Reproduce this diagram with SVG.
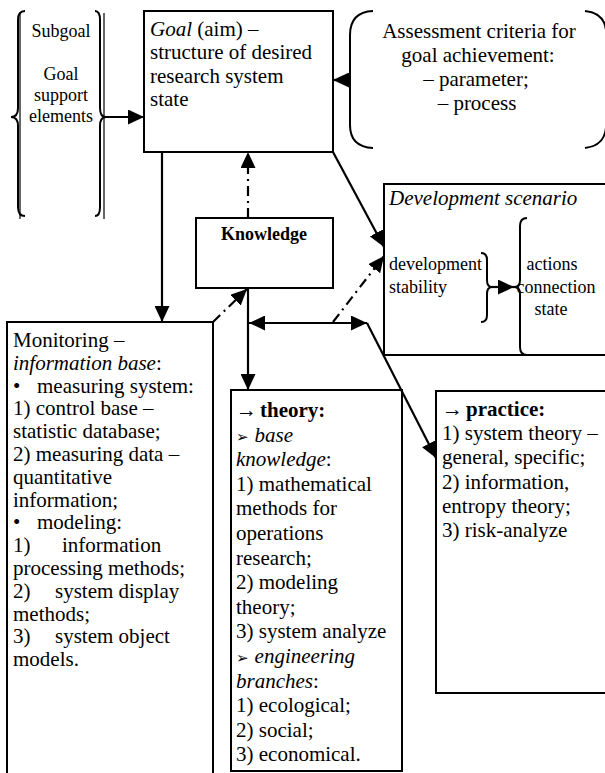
<svg xmlns="http://www.w3.org/2000/svg" width="605" height="773" viewBox="0 0 605 773">
  <style>
    text { font-family: "Liberation Serif", "Times New Roman", serif; fill: #000; }
    .t21 { font-size: 21px; }
    .t18 { font-size: 18px; }
    .box { fill: #fff; stroke: #000; stroke-width: 2; }
    .brace { fill: none; stroke: #000; stroke-width: 2; }
    .ln { fill: none; stroke: #000; stroke-width: 2.2; }
    .dd { fill: none; stroke: #000; stroke-width: 2.2; stroke-dasharray: 10 5 2 5; }
    .sym { font-family: "DejaVu Sans", sans-serif; font-size: 15px; }
    .it { font-style: italic; }
    .b { font-weight: bold; }
  </style>
  <defs>
    <marker id="arr" markerUnits="userSpaceOnUse" markerWidth="17" markerHeight="15" refX="16" refY="7.5" orient="auto-start-reverse">
      <path d="M0,0 L16,7.5 L0,15 Z" fill="#000"/>
    </marker>
  </defs>

  <rect width="605" height="773" fill="#fff"/>

  <!-- Subgoal / support elements -->
  <g id="subgoal">
    <path class="brace" d="M25,11 Q18,11 18,20 L18,108 Q18,117 11,117 Q18,117 18,126 L18,207 Q18,216 25,216"/>
    <line x1="20" y1="13" x2="20" y2="219" stroke="#000" stroke-width="1.2"/>
    <path class="brace" d="M95,11 Q100,11 100,20 L100,108 Q100,117 106,117 Q100,117 100,126 L100,207 Q100,216 95,216"/>
    <line x1="104" y1="13" x2="104" y2="219" stroke="#000" stroke-width="1.2"/>
    <text class="t18" x="61" y="37" text-anchor="middle">Subgoal</text>
    <text class="t18" x="61" y="80" text-anchor="middle">Goal</text>
    <text class="t18" x="61" y="101" text-anchor="middle">support</text>
    <text class="t18" x="61" y="122" text-anchor="middle">elements</text>
  </g>

  <!-- Goal -->
  <g id="goal">
    <rect class="box" x="144" y="11" width="189" height="141"/>
    <text class="t21" x="150" y="36"><tspan class="it">Goal</tspan> (aim) –</text>
    <text class="t21" x="150" y="59">structure of desired</text>
    <text class="t21" x="150" y="83">research system</text>
    <text class="t21" x="150" y="106">state</text>
  </g>

  <!-- Assessment criteria -->
  <g id="criteria">
    <path class="brace" d="M373,11 Q350,12 350,35 L350,125 Q350,147 373,148"/>
    <path class="brace" d="M585,11 Q604,13 606,30 M606,128 Q604,146 585,148"/>
    <text class="t21" x="479" y="38" text-anchor="middle">Assessment criteria for</text>
    <text class="t21" x="478" y="62" text-anchor="middle">goal achievement:</text>
    <text class="t21" x="476" y="86" text-anchor="middle">– parameter;</text>
    <text class="t21" x="477" y="110" text-anchor="middle">– process</text>
  </g>

  <!-- Knowledge -->
  <g id="knowledge">
    <rect class="box" x="196" y="218" width="137" height="70"/>
    <text class="t18 b" x="264" y="240" text-anchor="middle">Knowledge</text>
  </g>

  <!-- Development scenario -->
  <g id="scenario">
    <rect class="box" x="384" y="184" width="230" height="171"/>
    <text class="t21 it" x="389" y="205">Development scenario</text>
    <text class="t18" x="389" y="270">development</text>
    <text class="t18" x="389" y="293">stability</text>
    <path class="brace" d="M481,253 Q487,253 487,260 L487,280 Q487,287 492,287 Q487,287 487,294 L487,315 Q487,322 481,322"/>
    <path class="brace" d="M527,218 Q520,218 520,226 L520,280 Q520,287 514,287 Q520,287 520,294 L520,347 Q520,355 527,355"/>
    <line class="ln" x1="492" y1="287" x2="514" y2="287" marker-end="url(#arr)"/>
    <text class="t18" x="552" y="270" text-anchor="middle">actions</text>
    <text class="t18" x="556" y="293" text-anchor="middle">connection</text>
    <text class="t18" x="551" y="315" text-anchor="middle">state</text>
  </g>

  <!-- Monitoring -->
  <g id="monitoring">
    <rect class="box" x="7" y="322" width="206" height="470"/>
    <text class="t21" x="13" y="347">Monitoring –</text>
    <text class="t21" x="13" y="370"><tspan class="it">information base</tspan>:</text>
    <text class="t21" x="13" y="393">•</text>
    <text class="t21" x="37" y="393">measuring system:</text>
    <text class="t21" x="13" y="415">1) control base –</text>
    <text class="t21" x="13" y="438">statistic database;</text>
    <text class="t21" x="13" y="461">2) measuring data –</text>
    <text class="t21" x="13" y="484">quantitative</text>
    <text class="t21" x="13" y="507">information;</text>
    <text class="t21" x="13" y="529">•</text>
    <text class="t21" x="37" y="529">modeling:</text>
    <text class="t21" x="13" y="552">1)</text>
    <text class="t21" x="62" y="552">information</text>
    <text class="t21" x="13" y="575">processing methods;</text>
    <text class="t21" x="13" y="598">2)</text>
    <text class="t21" x="55" y="598">system display</text>
    <text class="t21" x="13" y="621">methods;</text>
    <text class="t21" x="13" y="643">3)</text>
    <text class="t21" x="55" y="643">system object</text>
    <text class="t21" x="13" y="666">models.</text>
  </g>

  <!-- Theory -->
  <g id="theory">
    <rect class="box" x="231" y="390" width="171" height="381"/>
    <text class="t21" x="236" y="417">→<tspan class="b" dx="3">theory:</tspan></text>
    <text x="236" y="442"><tspan class="sym">➢</tspan><tspan class="t21 it" dx="6">base</tspan></text>
    <text class="t21" x="236" y="466"><tspan class="it">knowledge</tspan>:</text>
    <text class="t21" x="236" y="491">1) mathematical</text>
    <text class="t21" x="236" y="515">methods for</text>
    <text class="t21" x="236" y="540">operations</text>
    <text class="t21" x="236" y="565">research;</text>
    <text class="t21" x="236" y="589">2) modeling</text>
    <text class="t21" x="236" y="614">theory;</text>
    <text class="t21" x="236" y="638">3) system analyze</text>
    <text x="236" y="663"><tspan class="sym">➢</tspan><tspan class="t21 it" dx="6">engineering</tspan></text>
    <text class="t21" x="236" y="688"><tspan class="it">branches</tspan>:</text>
    <text class="t21" x="236" y="712">1) ecological;</text>
    <text class="t21" x="236" y="737">2) social;</text>
    <text class="t21" x="236" y="761">3) economical.</text>
  </g>

  <!-- Practice -->
  <g id="practice">
    <rect class="box" x="436" y="391" width="178" height="302"/>
    <text class="t21" x="442" y="416">→<tspan class="b" dx="3">practice:</tspan></text>
    <text class="t21" x="442" y="440">1) system theory –</text>
    <text class="t21" x="442" y="464">general, specific;</text>
    <text class="t21" x="442" y="489">2) information,</text>
    <text class="t21" x="442" y="513">entropy theory;</text>
    <text class="t21" x="442" y="537">3) risk-analyze</text>
  </g>

  <!-- Connectors -->
  <g id="connectors">
    <line class="ln" x1="106" y1="117" x2="144" y2="117" marker-end="url(#arr)"/>
    <line class="ln" x1="350" y1="80" x2="333" y2="80" marker-end="url(#arr)"/>
    <line class="ln" x1="162" y1="152" x2="162" y2="322" marker-end="url(#arr)"/>
    <line class="dd" x1="248" y1="218" x2="248" y2="152" marker-end="url(#arr)"/>
    <line class="ln" x1="333" y1="152" x2="384" y2="247" marker-end="url(#arr)"/>
    <line class="ln" x1="248" y1="288" x2="248" y2="390" marker-end="url(#arr)"/>
    <line class="ln" x1="249" y1="323" x2="367" y2="323" marker-start="url(#arr)" marker-end="url(#arr)"/>
    <line class="ln" x1="367" y1="323" x2="436" y2="458" marker-end="url(#arr)"/>
    <line class="dd" x1="213" y1="322" x2="247" y2="289" marker-end="url(#arr)"/>
    <line class="dd" x1="333" y1="322" x2="384" y2="256" marker-end="url(#arr)"/>
  </g>
</svg>
